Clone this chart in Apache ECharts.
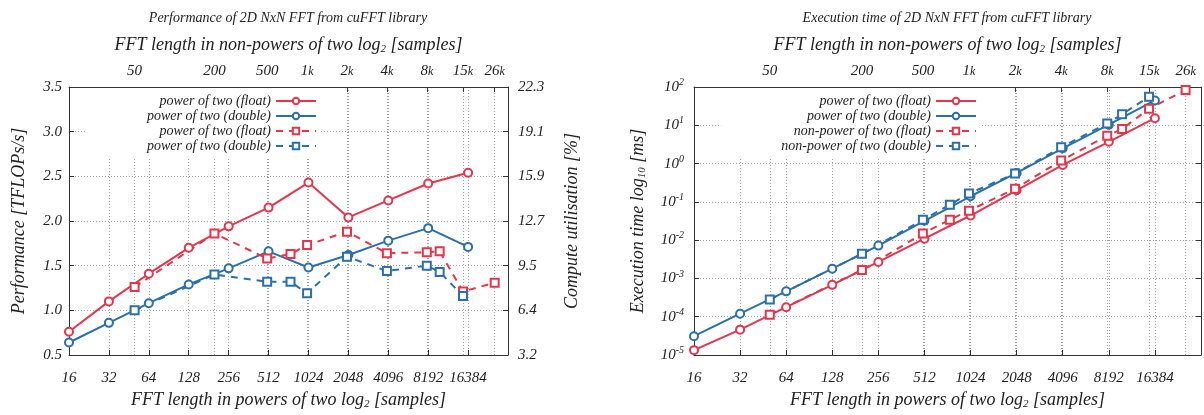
<!DOCTYPE html>
<html>
<head>
<meta charset="utf-8">
<script src="https://cdn.jsdelivr.net/npm/echarts@6.0.0/dist/echarts.min.js"></script>
<style>
body{margin:0;background:#fff;}
#wrap{width:1204px;height:415px;position:relative;}
#perf,#time{position:absolute;top:0;width:602px;height:415px;}
#perf{left:0;}
#time{left:602px;}
</style>
</head>
<body>
<div id="wrap"><div id="perf"></div><div id="time"></div></div>
<script>
// FFT sizes (N for NxN)
var pow2Sizes = [16, 32, 64, 128, 256, 512, 1024, 2048, 4096, 8192, 16384];
var nonPow2Sizes = [50, 200, 500, 750, 1000, 2000, 4000, 8000, 10000, 15000, 26000];

// performance, TFLOPs/s
var perfFloatPow2 = [0.76, 1.10, 1.41, 1.70, 1.94, 2.15, 2.43, 2.04, 2.23, 2.42, 2.54];
var perfDoublePow2 = [0.64, 0.86, 1.08, 1.29, 1.47, 1.66, 1.48, 1.62, 1.78, 1.92, 1.71];
var perfFloatNonPow2 = [1.26, 1.86, 1.58, 1.63, 1.73, 1.88, 1.64, 1.65, 1.66, 1.21, 1.31];
var perfDoubleNonPow2 = [1.00, 1.40, 1.32, 1.32, 1.19, 1.60, 1.44, 1.50, 1.43, 1.16, null];

// execution time, ms
var timeFloatPow2 = [1.34e-5, 4.6e-5, 1.77e-4, 6.8e-4, 2.7e-3, 1.09e-2, 4.4e-2, 0.20, 0.92, 3.7, 15.3];
var timeDoublePow2 = [3.1e-5, 1.2e-4, 4.6e-4, 1.8e-3, 7.2e-3, 3.2e-2, 0.14, 0.57, 2.5, 10.4, 44.5];
var timeFloatNonPow2 = [1.13e-4, 1.65e-3, 1.5e-2, 3.4e-2, 5.9e-2, 0.22, 1.2, 5.3, 8.0, 27, 83];
var timeDoubleNonPow2 = [2.8e-4, 4.4e-3, 3.4e-2, 8.4e-2, 0.165, 0.55, 2.66, 11.2, 19.3, 56, null];

// tick labels
var topTickValues = [50, 200, 500, 1000, 2000, 4000, 8000, 15000, 26000];
var topTickLabels = ['50', '200', '500', '1k', '2k', '4k', '8k', '15k', '26k'];
var utilTickLabels = ['3.2', '6.4', '9.5', '12.7', '15.9', '19.1', '22.3'];

var FONT = 'Liberation Serif';
var RED = '#E3364C';
var BLUE = '#2C6FA9';
var TEXT = '#222';
var FRAME = {show: true, onZero: false, lineStyle: {color: '#333', width: 1}};
var GRID_LINE = {show: true, lineStyle: {color: '#a0a0a0', width: 1, type: [1, 2]}};

function txt(size, extra){
	var s = {fontFamily: FONT, fontStyle: 'italic', fontSize: size, color: TEXT};
	for (var k in extra) s[k] = extra[k];
	return s;
}

function pairs(xs, ys){
	var out = [];
	for (var i = 0; i < xs.length; i++){
		if (ys[i] != null) out.push([xs[i], ys[i]]);
	}
	return out;
}

function lineSeries(name, xs, ys, color, dashed){
	return {
		name: name,
		type: 'line',
		data: pairs(xs, ys),
		symbol: dashed ? 'emptyRect' : 'emptyCircle',
		symbolSize: 8,
		lineStyle: {color: color, width: 2, type: dashed ? [7, 6] : 'solid'},
		itemStyle: {color: color, borderWidth: 1.5},
		animation: false
	};
}

function bottomAxis(){
	return {
		type: 'log', logBase: 2, min: 16, max: 32768,
		splitNumber: 11, interval: 1, minInterval: 1, maxInterval: 1,
		position: 'bottom',
		axisLine: FRAME,
		axisTick: {show: true, inside: true, length: 5, lineStyle: {color: '#333'}},
		axisLabel: {
			margin: 16, fontFamily: FONT, fontStyle: 'italic', fontSize: 15, color: TEXT,
			hideOverlap: false,
			formatter: function(v){ v = Math.round(v); return v > 16384 ? '' : String(v); }
		},
		splitLine: GRID_LINE,
		name: 'FFT length in powers of two log{sub|2} [samples]',
		nameLocation: 'middle', nameGap: 35, nameMoveOverlap: false,
		nameTextStyle: txt(18, {rich: {sub: txt(11, {padding: [9, 0, 0, 0]})}})
	};
}

// top axis is counted in log2 units, only used for the non-power-of-two ticks
function topAxis(){
	var logTicks = topTickValues.map(function(v){ return Math.log2(v); });
	return {
		type: 'value', min: 4, max: 15,
		position: 'top',
		axisLine: FRAME,
		axisTick: {show: true, inside: true, length: 5, lineStyle: {color: '#333'}, customValues: logTicks},
		axisLabel: {
			margin: 8, fontFamily: FONT, fontStyle: 'italic', fontSize: 15, color: TEXT,
			customValues: logTicks,
			formatter: function(v){
				var best = 0;
				for (var i = 1; i < logTicks.length; i++){
					if (Math.abs(logTicks[i] - v) < Math.abs(logTicks[best] - v)) best = i;
				}
				var s = topTickLabels[best];
				if (s.charAt(s.length - 1) === 'k') return s.slice(0, -1) + '{k|k}';
				return s;
			},
			rich: {k: txt(12)}
		},
		splitLine: GRID_LINE,
		name: 'FFT length in non-powers of two log{sub|2} [samples]',
		nameLocation: 'middle', nameGap: 32, nameMoveOverlap: false,
		nameTextStyle: txt(18, {rich: {sub: txt(11, {padding: [9, 0, 0, 0]})}})
	};
}

function legend(rightPx, names){
	return {
		orient: 'vertical', align: 'right',
		right: rightPx, top: 88,
		itemWidth: 40, itemHeight: 8, itemGap: 1,
		padding: [6, 4, 6, 60],
		backgroundColor: '#fff',
		textStyle: txt(14),
		data: names
	};
}

// 性能
var perfChart = echarts.init(document.getElementById('perf'));
perfChart.setOption({
	animation: false,
	title: {
		text: 'Performance of 2D NxN FFT from cuFFT library',
		left: 288, top: 11, textAlign: 'center', padding: 0,
		textStyle: txt(14, {fontWeight: 'normal'})
	},
	grid: {left: 69, top: 87, width: 439, height: 276},
	legend: legend(281, ['power of two (float)', 'power of two (double)', 'power of two (float)\u200b', 'power of two (double)\u200b']),
	xAxis: [bottomAxis(), topAxis()],
	yAxis: [
		{
			type: 'value', min: 0.5, max: 3.5, interval: 0.5,
			axisLine: FRAME,
			axisTick: {show: true, inside: true, length: 5, lineStyle: {color: '#333'}},
			axisLabel: {margin: 7, fontFamily: FONT, fontStyle: 'italic', fontSize: 15, color: TEXT,
				formatter: function(v){ return v.toFixed(1); }},
			splitLine: GRID_LINE,
			name: 'Performance [TFLOPs/s]', nameLocation: 'middle', nameGap: 41, nameMoveOverlap: false,
			nameTextStyle: txt(18)
		},
		{
			type: 'value', min: 0.5, max: 3.5, interval: 0.5, position: 'right',
			axisLine: FRAME,
			axisTick: {show: true, inside: true, length: 5, lineStyle: {color: '#333'}},
			axisLabel: {margin: 10, fontFamily: FONT, fontStyle: 'italic', fontSize: 15, color: TEXT,
				formatter: function(v){ return utilTickLabels[Math.round((v - 0.5) / 0.5)]; }},
			splitLine: {show: false},
			name: 'Compute utilisation [%]', nameLocation: 'middle', nameGap: 55, nameMoveOverlap: false,
			nameTextStyle: txt(18)
		}
	],
	series: [
		lineSeries('power of two (float)', pow2Sizes, perfFloatPow2, RED, false),
		lineSeries('power of two (double)', pow2Sizes, perfDoublePow2, BLUE, false),
		lineSeries('power of two (float)\u200b', nonPow2Sizes, perfFloatNonPow2, RED, true),
		lineSeries('power of two (double)\u200b', nonPow2Sizes, perfDoubleNonPow2, BLUE, true)
	]
});

// 执行时间
var timeChart = echarts.init(document.getElementById('time'));
timeChart.setOption({
	animation: false,
	title: {
		text: 'Execution time of 2D NxN FFT from cuFFT library',
		left: 345, top: 11, textAlign: 'center', padding: 0,
		textStyle: txt(14, {fontWeight: 'normal'})
	},
	grid: {left: 92, top: 87, width: 507, height: 276},
	legend: legend(223, ['power of two (float)', 'power of two (double)', 'non-power of two (float)', 'non-power of two (double)']),
	xAxis: [bottomAxis(), topAxis()],
	yAxis: [
		{
			type: 'log', logBase: 10, min: 1e-5, max: 100, splitNumber: 7,
			interval: 1, minInterval: 1, maxInterval: 1,
			axisLine: FRAME,
			axisTick: {show: true, inside: true, length: 5, lineStyle: {color: '#333'}},
			axisLabel: {
				margin: 10, fontFamily: FONT, fontStyle: 'italic', fontSize: 15, color: TEXT,
				formatter: function(v){ return '10{sup|' + Math.round(Math.log10(v)) + '}'; },
				rich: {sup: txt(10, {padding: [0, 0, 9, 0]})}
			},
			splitLine: GRID_LINE,
			name: 'Execution time log{sub|10} [ms]', nameLocation: 'middle', nameGap: 46, nameMoveOverlap: false,
			nameTextStyle: txt(18, {rich: {sub: txt(11, {padding: [9, 0, 0, 0]})}})
		},
		{
			type: 'log', logBase: 10, min: 1e-5, max: 100, splitNumber: 7,
			interval: 1, minInterval: 1, maxInterval: 1, position: 'right',
			axisLine: FRAME,
			axisTick: {show: true, inside: true, length: 5, lineStyle: {color: '#333'}},
			axisLabel: {show: false},
			splitLine: {show: false}
		}
	],
	series: [
		lineSeries('power of two (float)', pow2Sizes, timeFloatPow2, RED, false),
		lineSeries('power of two (double)', pow2Sizes, timeDoublePow2, BLUE, false),
		lineSeries('non-power of two (float)', nonPow2Sizes, timeFloatNonPow2, RED, true),
		lineSeries('non-power of two (double)', nonPow2Sizes, timeDoubleNonPow2, BLUE, true)
	]
});
</script>
</body>
</html>
